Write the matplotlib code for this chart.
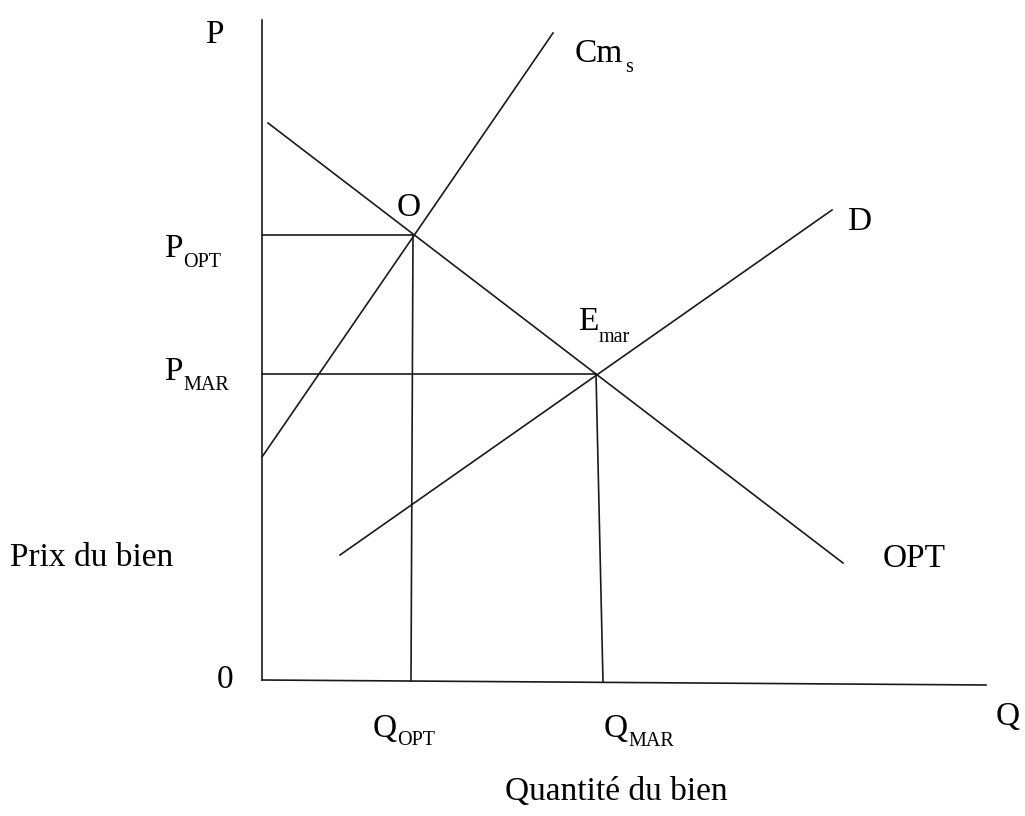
import matplotlib
matplotlib.use("Agg")
import matplotlib.pyplot as plt
from matplotlib.transforms import offset_copy

# ---- data (quantity, price) in diagram units; origin at the axes corner ----
axis_p = [0, 660]                 # vertical axis extent (price)
axis_q = [0, 724]                 # horizontal axis extent (quantity)
axis_q_drop = [0, -5]             # slight slope of the hand-drawn Q axis

cms_q = [0, 291]
cms_p = [223, 647]

opt_q = [6, 581]
opt_p = [557, 117]

d_q = [78, 570]
d_p = [125, 470]

point_O = (151, 445)
point_E = (334, 306)
foot_O = (149, -1)
foot_E = (341, -2)

SERIF = "Liberation Serif"
BIG = 24
SMALL = 14.5
INK = "#1a1a1a"

fig = plt.figure(figsize=(10.25, 8.16), dpi=100)
ax = fig.add_axes([0, 0, 1, 1])
ax.set_xlim(-262, 763)
ax.set_ylim(-136, 680)
ax.axis("off")

lw = 1.2
ax.plot([0, 0], axis_p, color=INK, lw=lw)
ax.plot(axis_q, axis_q_drop, color=INK, lw=lw)

ax.plot(cms_q, cms_p, color=INK, lw=lw)
ax.plot(opt_q, opt_p, color=INK, lw=lw)
ax.plot(d_q, d_p, color=INK, lw=lw)

ax.plot([0, point_O[0]], [point_O[1], point_O[1]], color=INK, lw=lw)
ax.plot([0, point_E[0]], [point_E[1], point_E[1]], color=INK, lw=lw)
ax.plot([point_O[0], foot_O[0]], [point_O[1], foot_O[1]], color=INK, lw=lw)
ax.plot([point_E[0], foot_E[0]], [point_E[1], foot_E[1]], color=INK, lw=lw)

renderer = fig.canvas.get_renderer()


def px(x, y):
    return x - 262, 680 - y


def label(x, y, s, sub=None, drop=10, gap=1):
    X, Y = px(x, y)
    t = ax.text(X, Y, s, fontsize=BIG, family=SERIF, color="black",
                ha="left", va="baseline")
    if sub:
        bb = t.get_window_extent(renderer=renderer)
        x1_data = ax.transData.inverted().transform((bb.x1 + gap, 0))[0]
        ax.text(x1_data, Y - drop, sub, fontsize=SMALL, family=SERIF,
                color="black", ha="left", va="baseline")


label(205, 43, "P")
label(575, 62, "Cm", "s", drop=10, gap=2)
label(397, 216, "O")
label(847, 230, "D")
label(578, 330, "E", "mar", drop=12, gap=0)
label(164, 257, "P", "OPT", drop=10)
label(164, 380, "P", "MAR", drop=10)
label(10, 566, "Prix du bien")
label(883, 567, "OPT")
label(217, 688, "0")
label(373, 737, "Q", "OPT", drop=8, gap=0)
label(604, 737, "Q", "MAR", drop=9, gap=0)
label(996, 725, "Q")
label(505, 800, "Quantité du bien")

fig.savefig("out.png", dpi=100, facecolor="white")
